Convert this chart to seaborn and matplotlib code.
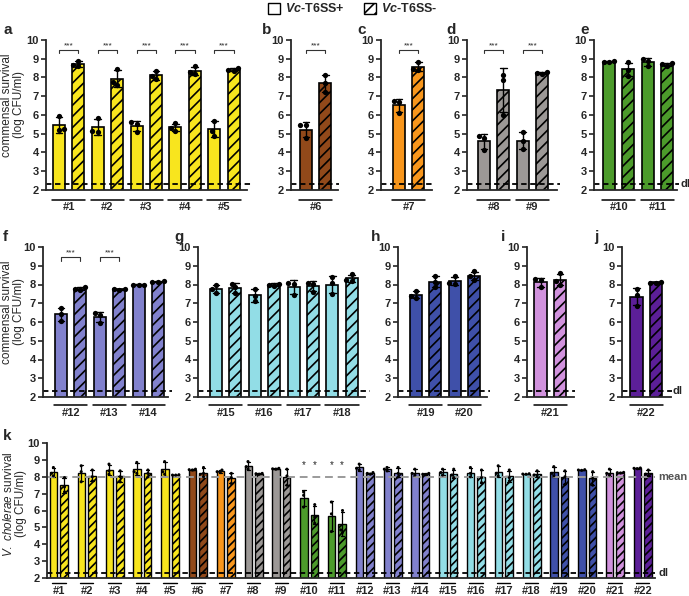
import numpy as np
import pandas as pd
import matplotlib.pyplot as plt
import matplotlib.transforms as mtransforms
from matplotlib.patches import Patch
import seaborn as sns

sns.set_style('ticks')
plt.rcParams['font.family'] = ['Liberation Sans', 'DejaVu Sans']
plt.rcParams.update({'mathtext.fontset': 'custom',
                     'mathtext.rm': 'Liberation Sans',
                     'mathtext.it': 'Liberation Sans:italic',
                     'mathtext.bfit': 'Liberation Sans:italic:bold',
                     'hatch.linewidth': 1.2,
                     'axes.linewidth': 1.3})

# strains and colours
strains = [f'#{i}' for i in range(1, 23)]
strain_colors = ['#F8E51E'] * 5 + ['#91491A', '#F8961C'] + ['#9C9896'] * 2 + \
                ['#4C9B2B'] * 2 + ['#8181CD'] * 3 + ['#92DDE6'] * 4 + \
                ['#3F50A9'] * 2 + ['#D192DD', '#5C1F98']

# commensal survival (log CFU/ml), three replicates per strain
comm_plus = [[5.95, 5.2, 5.25], [5.85, 5.1, 5.15], [5.6, 5.5, 5.1], [5.55, 5.3, 5.15],
             [5.7, 5.15, 4.9], [5.45, 5.45, 4.75], [6.75, 6.7, 6.1], [4.9, 4.75, 4.15],
             [5.1, 4.6, 4.2], [8.9, 8.85, 8.8], [9.0, 8.9, 8.6], [6.75, 6.45, 6.05],
             [6.5, 6.35, 5.95], [8.0, 7.98, 7.95], [8.0, 7.75, 7.55], [7.75, 7.4, 7.1],
             [8.1, 8.05, 7.45], [8.4, 8.1, 7.5], [7.65, 7.4, 7.3], [8.45, 8.1, 8.05],
             [8.28, 8.25, 7.85], [7.75, 7.45, 6.85]]
comm_minus = [[8.9, 8.65, 8.6], [8.45, 7.75, 7.6], [8.35, 8.1, 7.9], [8.6, 8.3, 8.2],
              [8.5, 8.4, 8.35], [8.15, 7.7, 7.25], [8.85, 8.45, 8.4], [8.15, 7.85, 6.0],
              [8.3, 8.25, 8.2], [8.8, 8.4, 8.1], [8.75, 8.7, 8.6], [7.85, 7.75, 7.7],
              [7.77, 7.75, 7.73], [8.18, 8.15, 8.15], [8.05, 7.85, 7.55], [8.05, 8.0, 7.9],
              [8.1, 8.05, 7.6], [8.55, 8.25, 8.2], [8.45, 8.15, 7.85], [8.7, 8.45, 8.25],
              [8.6, 8.2, 8.0], [8.15, 8.1, 8.08]]

# V. cholerae survival (log CFU/ml)
vc_plus = [[8.55, 8.2, 8.05], [8.65, 8.3, 7.7], [8.75, 8.35, 8.15], [8.85, 8.3, 8.2],
           [8.9, 8.3, 8.15], [8.45, 8.42, 8.4], [8.4, 8.3, 8.25], [8.9, 8.6, 8.45],
           [8.5, 8.47, 8.45], [7.1, 6.9, 6.2], [6.5, 5.8, 4.75], [8.75, 8.5, 8.4],
           [8.55, 8.45, 8.35], [8.45, 8.2, 8.1], [8.45, 8.25, 8.1], [8.55, 8.2, 8.0],
           [8.65, 8.2, 8.05], [8.18, 8.16, 8.15], [8.6, 8.2, 8.05], [8.42, 8.4, 8.38],
           [8.45, 8.2, 8.1], [8.52, 8.5, 8.48]]
vc_minus = [[7.95, 7.4, 7.1], [8.4, 8.0, 7.75], [8.35, 8.0, 7.7], [8.4, 8.2, 8.0],
            [8.12, 8.1, 8.1], [8.55, 8.2, 8.0], [8.2, 7.95, 7.6], [8.2, 8.18, 8.15],
            [8.45, 8.05, 7.5], [6.35, 5.6, 5.25], [6.0, 4.85, 4.7], [8.25, 8.2, 8.15],
            [8.55, 8.2, 8.0], [8.2, 8.15, 8.12], [8.45, 8.1, 7.95], [8.4, 7.95, 7.65],
            [8.4, 7.95, 7.75], [8.35, 8.1, 8.05], [8.35, 8.0, 7.55], [8.3, 7.9, 7.5],
            [8.26, 8.24, 8.22], [8.4, 8.15, 8.05]]

comm_sig = ['#1', '#2', '#3', '#4', '#5', '#6', '#7', '#8', '#9', '#12', '#13']
vc_sig = ['#10', '#11']
dl = 2.3
vc_mean = 8.0


def to_long(plus, minus):
    rows = []
    for s, p, m in zip(strains, plus, minus):
        rows += [(s, '+', v) for v in p] + [(s, '-', v) for v in m]
    df = pd.DataFrame(rows, columns=['strain', 'cond', 'cfu'])
    df['bar'] = df['strain'] + df['cond']
    return df


comm = to_long(comm_plus, comm_minus)
vc = to_long(vc_plus, vc_minus)
color_of = dict(zip(strains, strain_colors))

W, H = 689, 596
fig = plt.figure(figsize=(W / 100, H / 100), dpi=100)


def px_axes(L, R, top, bottom):
    return fig.add_axes([L / W, 1 - bottom / H, (R - L) / W, (bottom - top) / H])


def style_y(ax):
    ax.set_ylim(2, 10)
    ax.set_yticks(range(2, 11))
    ax.set_xticks([])
    ax.set_xlabel('')
    ax.set_ylabel('')
    sns.despine(ax=ax)
    ax.tick_params(axis='y', length=3.5, width=1.2, labelsize=8, pad=1.5)
    for lbl in ax.get_yticklabels():
        lbl.set_fontweight('bold')


# commensal panels: letter, strains, axis left/right px, first bar centre px, row
panels = [('a', strains[0:5], 46, 247, 59, 0),
          ('b', ['#6'], 291, 338, 306, 0),
          ('c', ['#7'], 381, 432, 399, 0),
          ('d', ['#8', '#9'], 467, 557, 484, 0),
          ('e', ['#10', '#11'], 594, 677, 609, 0),
          ('f', ['#12', '#13', '#14'], 43, 168, 61, 1),
          ('g', ['#15', '#16', '#17', '#18'], 198, 365, 216, 1),
          ('h', ['#19', '#20'], 398, 487, 416, 1),
          ('i', ['#21'], 527, 574, 540.5, 1),
          ('j', ['#22'], 622, 671, 636.5, 1)]
row_y = [(40, 190), (247, 397)]
letter_xy = {'a': (3, 30), 'b': (262, 30), 'c': (357, 30), 'd': (446, 30), 'e': (580, 30),
             'f': (3, 237), 'g': (174, 237), 'h': (371, 237), 'i': (501, 237), 'j': (594, 237)}
pitch = 19.4

for letter, sel, L, R, c0, row in panels:
    top, bottom = row_y[row]
    ax = px_axes(L, R, top, bottom)
    order = [s + c for s in sel for c in ['+', '-']]
    sub = comm[comm['strain'].isin(sel)]
    pal = {b: color_of[b[:-1]] for b in order}
    sns.barplot(data=sub, x='bar', y='cfu', hue='bar', order=order, hue_order=order,
                palette=pal, saturation=1, errorbar='sd', capsize=0.35, width=0.62,
                edgecolor='black', linewidth=1.2,
                err_kws={'color': 'black', 'linewidth': 1.0}, legend=False, ax=ax)
    for patch, b in zip(ax.patches, order):
        if b.endswith('-'):
            patch.set_hatch('///')
    sns.swarmplot(data=sub, x='bar', y='cfu', order=order, color='black', size=3.8, ax=ax)
    style_y(ax)
    ax.set_xlim((L - c0) / pitch, (R - c0) / pitch)
    ax.axhline(dl, xmin=0, xmax=1.03, color='black', ls=(0, (3, 2)), lw=1.3, clip_on=False)
    trans = mtransforms.blended_transform_factory(ax.transData, ax.transAxes)
    h = bottom - top
    for gi, s in enumerate(sel):
        x0, x1 = 2 * gi, 2 * gi + 1
        ax.plot([x0 - 0.36, x1 + 0.36], [-10 / h if row == 0 else -8 / h] * 2,
                color='black', lw=1.1, transform=trans, clip_on=False)
        ax.text((x0 + x1) / 2, -17 / h if row == 0 else -15.5 / h, s, transform=trans,
                ha='center', va='center', fontsize=8, fontweight='bold')
        if s in comm_sig:
            ax.plot([x0, x0, x1, x1], [9.28, 9.45, 9.45, 9.28], color='#333333', lw=0.8)
            ax.text((x0 + x1) / 2, 9.5, '***', ha='center', va='bottom', fontsize=6)
    if letter in ('a', 'f'):
        ax.set_ylabel('commensal survival\n(log CFU/ml)', fontsize=8.5, linespacing=0.95)
        ax.yaxis.set_label_coords((25 - L) / (R - L), 0.567)
    if letter in ('e', 'j'):
        ax.text(1.04, dl, 'dl', transform=mtransforms.blended_transform_factory(ax.transAxes, ax.transData),
                ha='left', va='center', fontsize=8, fontweight='bold')
    fig.text(letter_xy[letter][0] / W, 1 - letter_xy[letter][1] / H, letter,
             fontsize=11, fontweight='bold', ha='left', va='center')

# panel k: V. cholerae survival
axk = px_axes(47, 655, 443, 578)
sns.barplot(data=vc, x='strain', y='cfu', hue='cond', order=strains, hue_order=['+', '-'],
            palette=['white', 'white'], errorbar='sd', capsize=0.25, width=0.76, gap=0.29,
            edgecolor='black', linewidth=1.0,
            err_kws={'color': 'black', 'linewidth': 0.9}, legend=False, ax=axk)
for ci, cont in enumerate(axk.containers):
    for patch, col in zip(cont, strain_colors):
        patch.set_facecolor(col)
        if ci == 1:
            patch.set_hatch('////')
sns.swarmplot(data=vc, x='strain', y='cfu', hue='cond', order=strains, hue_order=['+', '-'],
              dodge=True, palette=['black', 'black'], size=2.2, legend=False, ax=axk)
style_y(axk)
axk.set_xlim(-0.43, 21.44)
axk.axhline(vc_mean, color='#9a9a9a', ls=(0, (4, 2.5)), lw=1.4)
axk.axhline(dl, xmin=0, xmax=1.0, color='black', ls=(0, (3, 2)), lw=1.3)
tk = mtransforms.blended_transform_factory(axk.transAxes, axk.transData)
axk.text(1.006, vc_mean, 'mean', transform=tk, ha='left', va='center', fontsize=8,
         fontweight='bold', color='#555555')
axk.text(1.006, dl, 'dl', transform=tk, ha='left', va='center', fontsize=8, fontweight='bold')
tkx = mtransforms.blended_transform_factory(axk.transData, axk.transAxes)
for gi, s in enumerate(strains):
    axk.plot([gi - 0.24, gi + 0.24], [-5 / 135] * 2, color='black', lw=1.0,
             transform=tkx, clip_on=False)
    axk.text(gi, -13 / 135, s, transform=tkx, ha='center', va='center', fontsize=8,
             fontweight='bold')
    if s in vc_sig:
        for dx in (-0.19, 0.19):
            axk.text(gi + dx, 8.7, '*', ha='center', va='center', fontsize=7)
axk.set_ylabel(r'$\it{V.\ cholerae}$ survival' + '\n(log CFU/ml)', fontsize=8.5, linespacing=0.95)
axk.yaxis.set_label_coords((27 - 47) / (655 - 47), 0.55)
fig.text(3 / W, 1 - 436 / H, 'k', fontsize=11, fontweight='bold', ha='left', va='center')

# legend
handles = [Patch(facecolor='white', edgecolor='black', linewidth=1.0),
           Patch(facecolor='white', edgecolor='black', linewidth=1.0, hatch='///')]
fig.legend(handles, [r'$\mathbfit{Vc}$-T6SS+', r'$\mathbfit{Vc}$-T6SS-'],
           loc='center', bbox_to_anchor=(0.512, 0.985), ncol=2, frameon=False,
           handlelength=1.0, handleheight=1.0, handletextpad=0.4, columnspacing=1.5,
           prop={'size': 9, 'weight': 'bold'})

fig.savefig('out.png', dpi=100)
